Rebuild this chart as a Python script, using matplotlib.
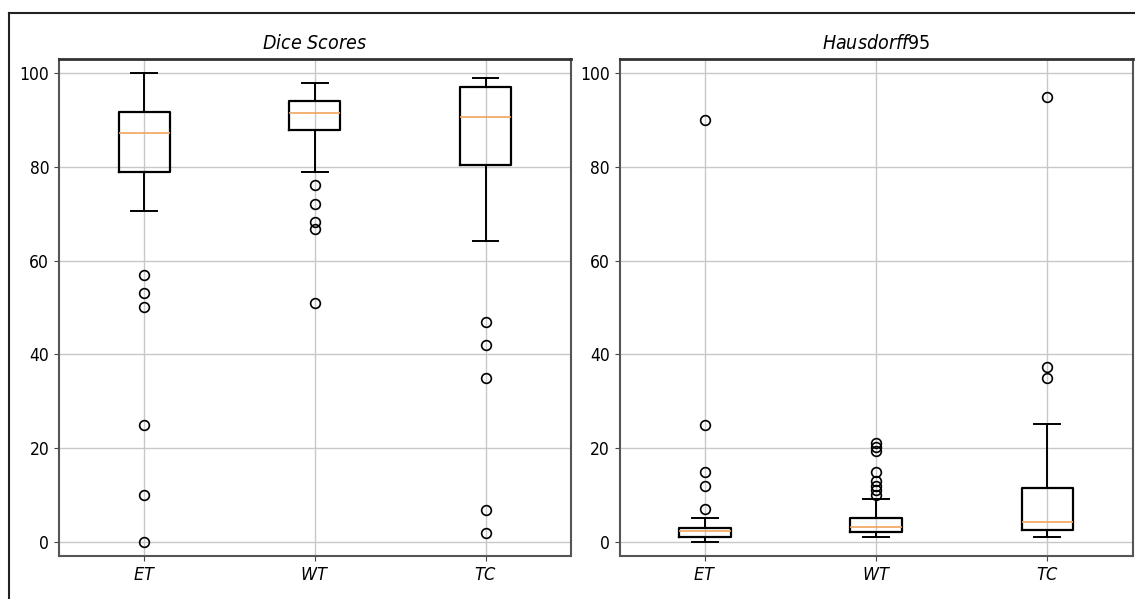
import matplotlib
matplotlib.use("Agg")
import matplotlib.pyplot as plt
from matplotlib.lines import Line2D

plt.rcParams["font.family"] = ["DejaVu Sans"]
plt.rcParams["font.stretch"] = "condensed"
plt.rcParams["mathtext.fontset"] = "custom"
plt.rcParams["mathtext.it"] = "DejaVu Sans:italic:stretch=condensed"
plt.rcParams["mathtext.rm"] = "DejaVu Sans:stretch=condensed"
plt.rcParams["mathtext.bf"] = "DejaVu Sans:bold:stretch=condensed"

categories = ["$ET$", "$WT$", "$TC$"]

# Dice Scores: (whislo, q1, med, q3, whishi, fliers)
dice_whislo = [70.6, 78.9, 64.1]
dice_q1 = [78.8, 87.9, 80.3]
dice_med = [87.3, 91.5, 90.6]
dice_q3 = [91.7, 94.1, 97.1]
dice_whishi = [100.0, 97.9, 99.0]
dice_fliers = [
    [57.0, 53.0, 50.2, 25.0, 10.0, 0.0],
    [76.1, 72.1, 68.2, 66.8, 50.9],
    [47.0, 42.0, 35.0, 6.9, 2.0],
]

# Hausdorff95
hd_whislo = [0.0, 1.0, 1.0]
hd_q1 = [1.0, 2.1, 2.6]
hd_med = [2.4, 3.2, 4.2]
hd_q3 = [3.05, 5.0, 11.6]
hd_whishi = [5.0, 9.1, 25.1]
hd_fliers = [
    [90.0, 25.0, 15.0, 12.0, 7.0],
    [21.2, 20.3, 19.3, 15.0, 13.0, 12.0, 11.0, 10.0],
    [95.0, 37.4, 35.0],
]

titles = ["$Dice\\ Scores$", "$Hausdorff\\mathrm{95}$"]
yticks = [0, 20, 40, 60, 80, 100]


def stats(wl, q1, med, q3, wh, fl):
    return [dict(whislo=a, q1=b, med=c, q3=d, whishi=e, fliers=f)
            for a, b, c, d, e, f in zip(wl, q1, med, q3, wh, fl)]


W, H = 1135, 599
fig = plt.figure(figsize=(W / 100, H / 100), dpi=100)

ax1 = fig.add_axes([58.9 / W, 1 - 556 / H, 512 / W, 497 / H])
ax2 = fig.add_axes([619.5 / W, 1 - 556 / H, 513.3 / W, 497 / H])

data = [
    stats(dice_whislo, dice_q1, dice_med, dice_q3, dice_whishi, dice_fliers),
    stats(hd_whislo, hd_q1, hd_med, hd_q3, hd_whishi, hd_fliers),
]

for ax, st, title in zip([ax1, ax2], data, titles):
    ax.bxp(st, positions=[1, 2, 3], widths=0.3, showfliers=True,
           boxprops=dict(color="black", linewidth=1.6),
           whiskerprops=dict(color="black", linewidth=1.4),
           capprops=dict(color="black", linewidth=1.4),
           medianprops=dict(color="#f3a55a", linewidth=1.2),
           flierprops=dict(marker="o", markerfacecolor="none",
                           markeredgecolor="black", markersize=7,
                           markeredgewidth=1.2))
    ax.set_xlim(0.5, 3.5)
    ax.set_ylim(-3, 103)
    ax.set_xticks([1, 2, 3])
    ax.set_yticks(yticks)
    ax.tick_params(axis="both", labelsize=12.5, color="#444444")
    ax.set_xticklabels(categories, fontsize=13)
    ax.grid(True, color="#c8c8c8", linewidth=1.0)
    ax.set_axisbelow(True)
    for s in ax.spines.values():
        s.set_color("#555555")
        s.set_linewidth(1.5)
    ax.spines["top"].set_color("#333333")
    ax.spines["top"].set_linewidth(2.0)
    ax.set_title(title, fontsize=14, pad=7)

# outer frame (partially visible)
fig.add_artist(Line2D([9 / W, 1.0], [1 - 13 / H, 1 - 13 / H],
                      transform=fig.transFigure, color="#222222", linewidth=1.5))
fig.add_artist(Line2D([9 / W, 9 / W], [0.0, 1 - 13 / H],
                      transform=fig.transFigure, color="#222222", linewidth=1.5))

fig.savefig("out.png", dpi=100)
